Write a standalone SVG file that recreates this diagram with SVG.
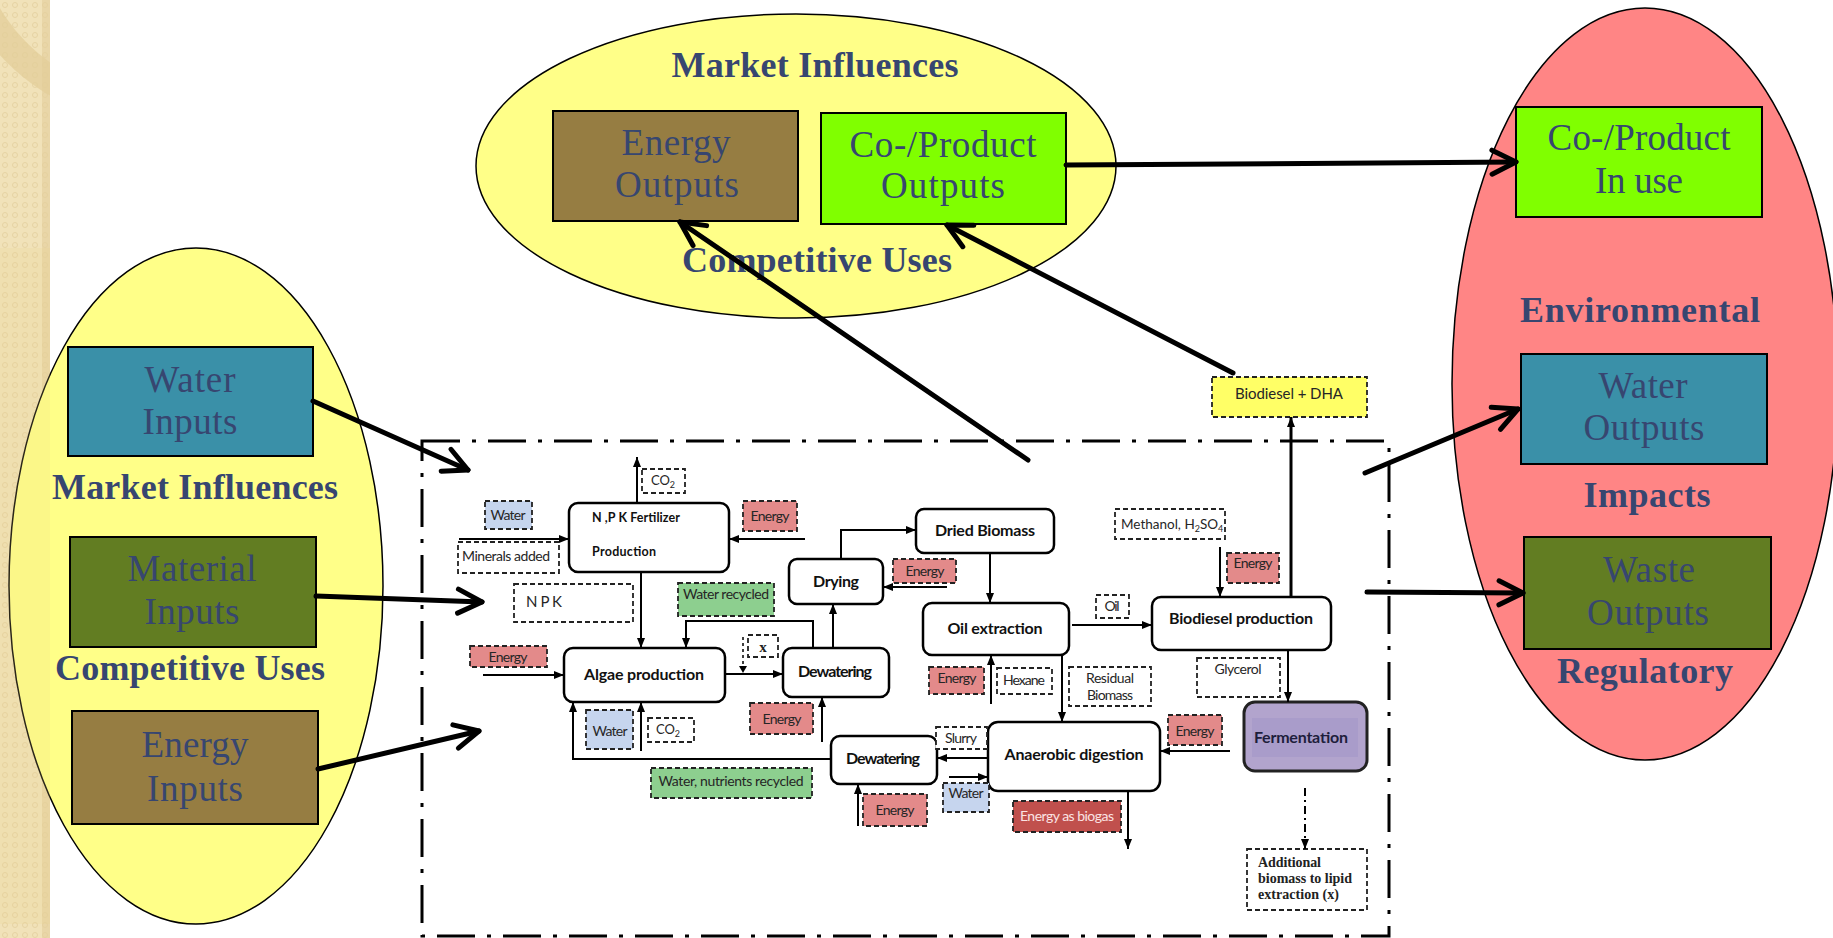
<svg xmlns="http://www.w3.org/2000/svg" width="1833" height="938" viewBox="0 0 1833 938">
<defs>
<style>
.ser{font-family:"Liberation Serif","Times New Roman",serif;fill:#374670;text-anchor:middle}
.big{font-size:37px}
.hd{font-size:36px;font-weight:bold}
.sn{font-family:Lato,"Liberation Sans",Arial,sans-serif;fill:#262626;font-size:14px;text-anchor:middle}
.bd{font-weight:bold;font-size:16px;fill:#111}
.node{fill:#fff;stroke:#000;stroke-width:2.5}
.dash{stroke:#222;stroke-width:1.8;stroke-dasharray:5 3}
.pl{fill:#fff}
.red{fill:#e38a8a}
.blu{fill:#c6d5ee}
.grn{fill:#8dcf8f}
.c{fill:none;stroke:#000;stroke-width:2;marker-end:url(#sm)}
.bigc{fill:none;stroke:#000;stroke-width:5;stroke-linecap:round;marker-end:url(#bg)}
</style>
<marker id="sm" markerUnits="userSpaceOnUse" markerWidth="10" markerHeight="10" viewBox="0 0 10 10" refX="10" refY="5" orient="auto">
<path d="M0,1 L10,5 L0,9 Z" fill="#000"/>
</marker>
<marker id="bg" markerUnits="userSpaceOnUse" markerWidth="34" markerHeight="34" viewBox="0 0 34 34" refX="30" refY="17" orient="auto">
<path d="M6,5 L30,17 L6,29" fill="none" stroke="#000" stroke-width="5" stroke-linecap="round" stroke-linejoin="round"/>
</marker>
<pattern id="chk" width="10" height="10" patternUnits="userSpaceOnUse">
<rect width="10" height="10" fill="#f1e2b9"/>
<circle cx="5" cy="5" r="2.5" fill="none" stroke="#e6d3a2" stroke-width="1"/>
</pattern>
<clipPath id="stripClip"><rect x="0" y="0" width="50" height="938"/></clipPath>
</defs>

<rect x="0" y="0" width="1833" height="938" fill="#fff"/>
<g id="strip">
<rect x="0" y="0" width="50" height="938" fill="url(#chk)"/>
<rect x="42" y="0" width="8" height="938" fill="#e4cf9c" opacity="0.6"/>
<g clip-path="url(#stripClip)">
<path d="M150,-80 m-202,0 a202,202 0 0,0 202,202 l0,-28 a174,174 0 0,1 -174,-174 z" fill="#e2cd98" opacity="0.7"/>
</g>
</g>

<g id="inputs">
<ellipse cx="196" cy="586" rx="187" ry="338" fill="#ffff88" stroke="#000" stroke-width="1.5"/>
<rect x="0" y="248" width="50" height="676" fill="#e8d28a" opacity="0.18"/>
<text class="ser hd" x="195" y="499" textLength="286">Market Influences</text>
<text class="ser hd" x="190" y="680" textLength="270">Competitive Uses</text>
</g>
<g id="water-inputs">
<rect x="68" y="347" width="245" height="109" fill="#3a90a8" stroke="#000" stroke-width="2"/>
<text class="ser big" x="190" y="392" textLength="91">Water</text>
<text class="ser big" x="190" y="434" textLength="95">Inputs</text>
</g>
<g id="material-inputs">
<rect x="70" y="537" width="246" height="110" fill="#627d22" stroke="#000" stroke-width="2"/>
<text class="ser big" x="192" y="581" textLength="129">Material</text>
<text class="ser big" x="192" y="624" textLength="95">Inputs</text>
</g>
<g id="energy-inputs">
<rect x="72" y="711" width="246" height="113" fill="#967d42" stroke="#000" stroke-width="2"/>
<text class="ser big" x="195" y="757" textLength="107">Energy</text>
<text class="ser big" x="195" y="801" textLength="96">Inputs</text>
</g>

<g id="outputs-market">
<ellipse cx="796" cy="166" rx="320" ry="152" fill="#ffff88" stroke="#000" stroke-width="1.5"/>
<text class="ser hd" x="815" y="77" textLength="287">Market Influences</text>
<text class="ser hd" x="817" y="272" textLength="270">Competitive Uses</text>
</g>
<g id="energy-outputs">
<rect x="553" y="111" width="245" height="110" fill="#967d42" stroke="#000" stroke-width="2"/>
<text class="ser big" x="676" y="155" textLength="109">Energy</text>
<text class="ser big" x="677" y="197" textLength="124">Outputs</text>
</g>
<g id="coproduct-outputs">
<rect x="821" y="113" width="245" height="111" fill="#80ff00" stroke="#000" stroke-width="2"/>
<text class="ser big" x="943" y="157" textLength="187">Co-/Product</text>
<text class="ser big" x="943" y="198" textLength="124">Outputs</text>
</g>

<g id="impacts">
<ellipse cx="1645" cy="384" rx="193" ry="376" fill="#ff8585" stroke="#000" stroke-width="1.5"/>
<text class="ser hd" x="1640" y="322" textLength="240">Environmental</text>
<text class="ser hd" x="1647" y="507" textLength="127">Impacts</text>
<text class="ser hd" x="1645" y="683" textLength="176">Regulatory</text>
</g>
<g id="coproduct-inuse">
<rect x="1516" y="107" width="246" height="110" fill="#80ff00" stroke="#000" stroke-width="2"/>
<text class="ser big" x="1639" y="150" textLength="183">Co-/Product</text>
<text class="ser big" x="1639" y="193" textLength="88">In use</text>
</g>
<g id="water-outputs">
<rect x="1521" y="354" width="246" height="110" fill="#3a90a8" stroke="#000" stroke-width="2"/>
<text class="ser big" x="1643" y="398" textLength="89">Water</text>
<text class="ser big" x="1644" y="440" textLength="121">Outputs</text>
</g>
<g id="waste-outputs">
<rect x="1524" y="537" width="247" height="112" fill="#627d22" stroke="#000" stroke-width="2"/>
<text class="ser big" x="1649" y="582" textLength="92">Waste</text>
<text class="ser big" x="1648" y="625" textLength="122">Outputs</text>
</g>

<g id="boundary">
<rect x="422" y="441" width="967" height="495" fill="none" stroke="#000" stroke-width="3" stroke-dasharray="38 12 4 12"/>
</g>

<g id="fertilizer">
<rect class="node" x="569" y="503" width="160" height="69" rx="9"/>
<text class="sn" x="592" y="522" style="text-anchor:start;font-weight:bold;font-size:12.5px;fill:#111" textLength="88">N ,P K Fertilizer</text>
<text class="sn" x="592" y="556" style="text-anchor:start;font-weight:bold;font-size:12.5px;fill:#111" textLength="64">Production</text>
</g>
<g id="algae">
<rect class="node" x="564" y="648" width="161" height="54" rx="9"/>
<text class="sn bd" x="644" y="680" textLength="120">Algae production</text>
</g>
<g id="dewatering1">
<rect class="node" x="783" y="648" width="106" height="49" rx="9"/>
<text class="sn bd" x="835" y="677" textLength="74">Dewatering</text>
</g>
<g id="drying">
<rect class="node" x="789" y="559" width="94" height="45" rx="8"/>
<text class="sn bd" x="836" y="587" textLength="46">Drying</text>
</g>
<g id="dried-biomass">
<rect class="node" x="916" y="509" width="138" height="44" rx="8"/>
<text class="sn bd" x="985" y="536" textLength="100">Dried Biomass</text>
</g>
<g id="oil-extraction">
<rect class="node" x="923" y="603" width="146" height="52" rx="9"/>
<text class="sn bd" x="995" y="634" textLength="95">Oil extraction</text>
</g>
<g id="biodiesel">
<rect class="node" x="1152" y="597" width="179" height="53" rx="9"/>
<text class="sn bd" x="1241" y="624" textLength="144">Biodiesel production</text>
</g>
<g id="anaerobic">
<rect class="node" x="988" y="722" width="172" height="69" rx="10"/>
<text class="sn bd" x="1074" y="760" textLength="139">Anaerobic digestion</text>
</g>
<g id="dewatering2">
<rect class="node" x="831" y="736" width="106" height="48" rx="9"/>
<text class="sn bd" x="883" y="764" textLength="74">Dewatering</text>
</g>
<g id="fermentation">
<rect x="1244" y="702" width="123" height="69" rx="11" fill="#b2a4cd" stroke="#222" stroke-width="3"/>
<rect x="1252" y="718" width="106" height="39" fill="#a99cca"/>
<text class="sn bd" x="1301" y="743" textLength="94" style="fill:#1e1e3c">Fermentation</text>
</g>

<g id="lbl-co2-top"><rect class="dash pl" x="642" y="469" width="43" height="24"/><text class="sn" x="663" y="485" style="font-size:13px">CO<tspan font-size="9" dy="3">2</tspan></text></g>
<g id="lbl-water-fert"><rect class="dash blu" x="485" y="501" width="47" height="28"/><text class="sn" x="508" y="520" textLength="35">Water</text></g>
<g id="lbl-minerals"><rect class="dash pl" x="458" y="542" width="101" height="31"/><text class="sn" x="462" y="561" style="text-anchor:start" textLength="88">Minerals added</text></g>
<g id="lbl-energy-fert"><rect class="dash red" x="743" y="501" width="54" height="30"/><text class="sn" x="770" y="521" textLength="39">Energy</text></g>
<g id="lbl-npk"><rect class="dash pl" x="514" y="584" width="119" height="38"/><text class="sn" x="526" y="607" style="text-anchor:start;font-size:15px" textLength="36">N P K</text></g>
<g id="lbl-water-recycled"><rect class="dash grn" x="678" y="583" width="96" height="33"/><text class="sn" x="726" y="599" textLength="86">Water recycled</text></g>
<g id="lbl-energy-algae"><rect class="dash red" x="470" y="646" width="77" height="21"/><text class="sn" x="508" y="662" textLength="39">Energy</text></g>
<g id="lbl-x"><rect class="dash pl" x="748" y="635" width="30" height="22"/><text x="763" y="652" font-family="Liberation Serif,serif" font-weight="bold" font-size="15" text-anchor="middle" fill="#222">x</text></g>
<g id="lbl-energy-drying"><rect class="dash red" x="893" y="559" width="63" height="24"/><text class="sn" x="925" y="576" textLength="39">Energy</text></g>
<g id="lbl-energy-dew1"><rect class="dash red" x="750" y="703" width="63" height="31"/><text class="sn" x="782" y="724" textLength="39">Energy</text></g>
<g id="lbl-water-algae"><rect class="dash blu" x="586" y="710" width="47" height="39"/><text class="sn" x="610" y="736" textLength="35">Water</text></g>
<g id="lbl-co2-algae"><rect class="dash pl" x="648" y="718" width="46" height="24"/><text class="sn" x="668" y="734" style="font-size:13px">CO<tspan font-size="9" dy="3">2</tspan></text></g>
<g id="lbl-water-nutrients"><rect class="dash grn" x="651" y="768" width="161" height="30"/><text class="sn" x="731" y="786" textLength="145">Water, nutrients recycled</text></g>
<g id="lbl-energy-dew2"><rect class="dash red" x="863" y="794" width="64" height="32"/><text class="sn" x="895" y="815" textLength="39">Energy</text></g>
<g id="lbl-slurry"><rect class="dash pl" x="936" y="727" width="51" height="22"/><text class="sn" x="961" y="743" textLength="32">Slurry</text></g>
<g id="lbl-water-ad"><rect class="dash blu" x="943" y="783" width="46" height="29"/><text class="sn" x="966" y="798" textLength="35">Water</text></g>
<g id="lbl-energy-ad"><rect class="dash red" x="1168" y="715" width="54" height="30"/><text class="sn" x="1195" y="736" textLength="39">Energy</text></g>
<g id="lbl-biogas"><rect class="dash" x="1013" y="801" width="108" height="31" fill="#c0504d"/><text class="sn" x="1067" y="821" style="fill:#fbe3e3" textLength="94">Energy as biogas</text></g>
<g id="lbl-energy-oil"><rect class="dash red" x="929" y="667" width="55" height="27"/><text class="sn" x="957" y="683" textLength="39">Energy</text></g>
<g id="lbl-hexane"><rect class="dash pl" x="997" y="668" width="55" height="26"/><text class="sn" x="1024" y="685" textLength="42">Hexane</text></g>
<g id="lbl-residual"><rect class="dash pl" x="1069" y="667" width="82" height="39"/><text class="sn" x="1110" y="683" textLength="48">Residual</text><text class="sn" x="1110" y="700" textLength="46">Biomass</text></g>
<g id="lbl-oil"><rect class="dash pl" x="1096" y="595" width="33" height="23"/><text class="sn" x="1112" y="611" textLength="15">Oil</text></g>
<g id="lbl-methanol"><rect class="dash pl" x="1115" y="509" width="110" height="30"/><text class="sn" x="1121" y="529" style="text-anchor:start;font-size:13.5px">Methanol, H<tspan font-size="9" dy="3">2</tspan><tspan dy="-3">SO</tspan><tspan font-size="9" dy="3">4</tspan></text></g>
<g id="lbl-energy-bio"><rect class="dash red" x="1227" y="553" width="52" height="30"/><text class="sn" x="1253" y="568" textLength="39">Energy</text></g>
<g id="lbl-glycerol"><rect class="dash pl" x="1197" y="658" width="83" height="39"/><text class="sn" x="1238" y="674" textLength="47">Glycerol</text></g>
<g id="lbl-dha"><rect class="dash" x="1212" y="377" width="155" height="40" fill="#ffff66"/><text class="sn" x="1289" y="399" style="font-size:15px" textLength="108">Biodiesel + DHA</text></g>
<g id="lbl-additional"><rect class="dash pl" x="1247" y="849" width="120" height="61"/>
<text x="1258" y="867" font-family="Liberation Serif,serif" font-weight="bold" font-size="14" fill="#222" textLength="63">Additional</text>
<text x="1258" y="883" font-family="Liberation Serif,serif" font-weight="bold" font-size="14" fill="#222" textLength="94">biomass to lipid</text>
<text x="1258" y="899" font-family="Liberation Serif,serif" font-weight="bold" font-size="14" fill="#222" textLength="81">extraction (x)</text></g>

<g id="connectors">
<path class="c" d="M637,503 V457"/>
<path class="c" d="M459,539 H569"/>
<path class="c" d="M805,539 H729"/>
<path class="c" d="M641,572 V648"/>
<path class="c" d="M813,648 V621 H686 V648"/>
<path class="c" d="M483,675 H564"/>
<path class="c" d="M725,674 H783"/>
<path d="M743,637 V664" fill="none" stroke="#000" stroke-width="1.5" stroke-dasharray="3 3"/>
<path d="M739,666 L747,666 L743,673 Z" fill="#000"/>
<path class="c" d="M833,648 V604"/>
<path class="c" d="M841,559 V530 H916"/>
<path class="c" d="M947,587 H883"/>
<path class="c" d="M990,553 V603"/>
<path class="c" d="M1072,625 H1152"/>
<path class="c" d="M1220,547 V597"/>
<path class="c" d="M1291,597 V417" style="stroke-width:3"/>
<path class="c" d="M1288,650 V702"/>
<path class="c" d="M991,704 V655"/>
<path class="c" d="M1062,655 V722"/>
<path class="c" d="M988,758 H937"/>
<path class="c" d="M949,777 H988"/>
<path class="c" d="M1230,751 H1160"/>
<path class="c" d="M1128,791 V849"/>
<path class="c" d="M1305,788 V849" style="stroke-dasharray:8 4 2 4"/>
<path class="c" d="M831,759 H573 V702"/>
<path class="c" d="M641,751 V702"/>
<path class="c" d="M822,742 V697"/>
<path class="c" d="M858,826 V784"/>
<path class="bigc" d="M313,401 L468,470"/>
<path class="bigc" d="M316,596 L482,602"/>
<path class="bigc" d="M318,769 L479,731"/>
<path class="bigc" d="M1028,460 L680,222"/>
<path class="bigc" d="M1233,373 L947,225"/>
<path class="bigc" d="M1066,165 L1516,162"/>
<path class="bigc" d="M1365,473 L1518,409"/>
<path class="bigc" d="M1367,592 L1523,593"/>
</g>
</svg>
